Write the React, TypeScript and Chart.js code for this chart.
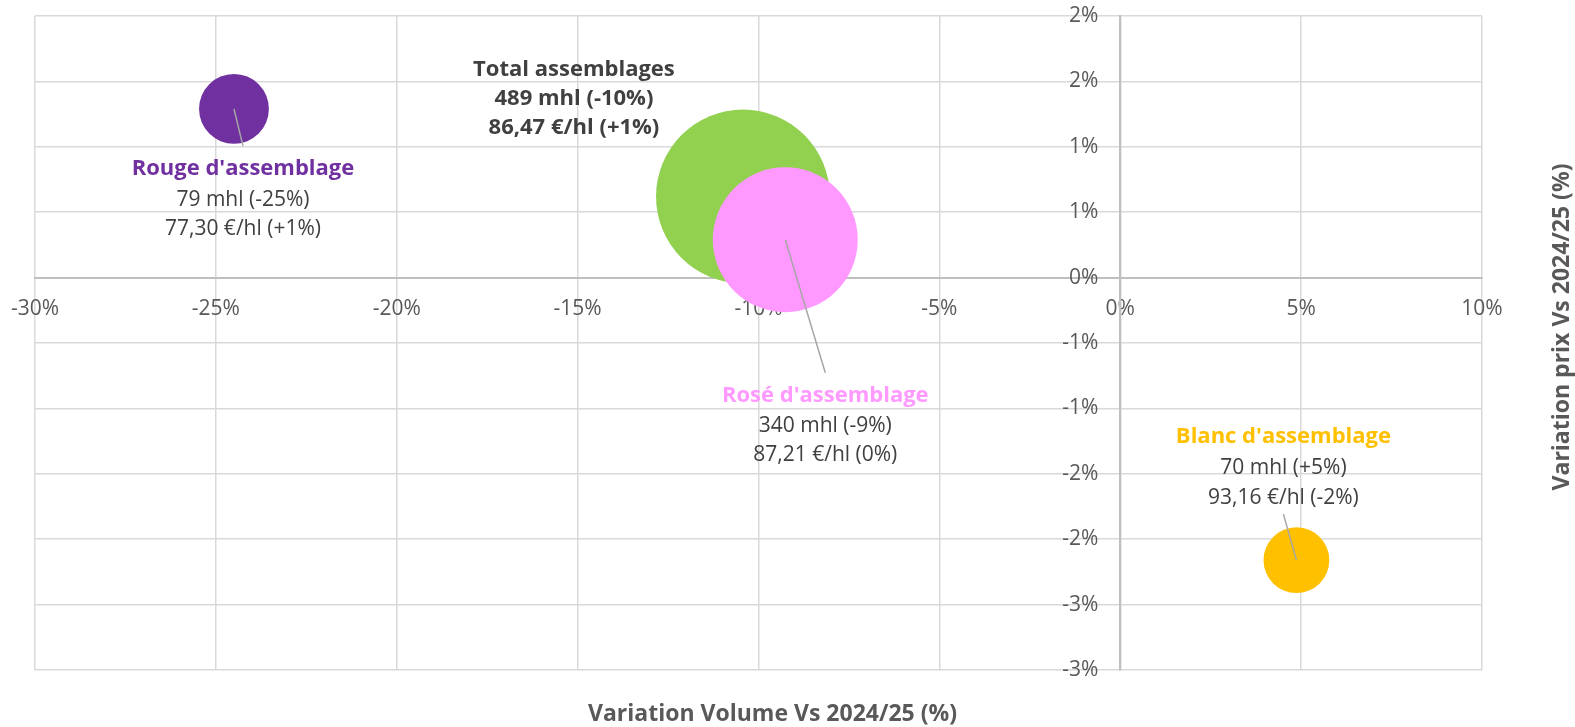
import React, { useEffect, useRef } from 'react';
import { Chart, registerables } from 'chart.js';

Chart.register(...registerables);

// ---- Data ----
const SERIES_NAMES = ['Total assemblages', "Rosé d'assemblage", "Rouge d'assemblage", "Blanc d'assemblage"];
const VOLUME_VARIATION = [-10.43, -9.26, -24.5, 4.87]; // % vs 2024/25 (x)
const PRICE_VARIATION = [0.62, 0.29, 1.29, -2.16]; // % vs 2024/25 (y)
const VOLUME_MHL = [489, 340, 79, 70];
const PRICE_EUR_HL = [86.47, 87.21, 77.3, 93.16];
const X_TICK_VALUES = [-30, -25, -20, -15, -10, -5, 0, 5, 10];
const Y_TICK_VALUES = [2, 1.5, 1, 0.5, 0, -0.5, -1, -1.5, -2, -2.5, -3];
const X_TITLE = 'Variation Volume Vs 2024/25 (%)';
const Y_TITLE = 'Variation prix Vs 2024/25 (%)';

// ---- Styles ----
const SERIES_COLORS = ['#92D050', '#FF99FF', '#7030A0', '#FFC000'];
const TITLE_COLORS = ['#404040', '#FF99FF', '#7030A0', '#FFC000'];
const BUBBLE_SCALE = 3.93;
const FONT = "'Open Sans', 'DejaVu Sans', sans-serif";
const TEXT_COLOR = '#404040';
const AXIS_TEXT = '#595959';
const GRID_COLOR = '#D9D9D9';
const AXIS_LINE_COLOR = '#BFBFBF';

// label layout: offsets (px) from the bubble centre
const LABEL_LAYOUT = [
  { dx: -169, dy: [-121, -92, -63], leader: null, allBold: true },
  { dx: 40, dy: [162, 192, 221], leader: [40, 133], allBold: false },
  { dx: 9, dy: [66, 97, 126], leader: [9, 37], allBold: false },
  { dx: -13, dy: [-117, -86, -56], leader: [-13, -46], allBold: false },
];

const roundAway = (v: number) => {
  const r = Math.sign(v) * Math.round(Math.abs(v) + 1e-9);
  return r === 0 ? 0 : r;
};
const pctSigned = (v: number) => {
  const r = roundAway(v);
  return r > 0 ? `+${r}%` : `${r}%`;
};
const pctTick = (v: number) => `${roundAway(v)}%`;

const noPadX = (s: any) => { s.paddingLeft = 0; s.paddingRight = 0; s.height = 0; };
const noPadY = (s: any) => { s.paddingTop = 0; s.paddingBottom = 0; s.width = 0; };

const labelPlugin = {
  id: 'bubbleLabels',
  afterDatasetsDraw(chart: any) {
    const ctx = chart.ctx;
    ctx.save();
    chart.data.datasets.forEach((ds: any, i: number) => {
      const meta = chart.getDatasetMeta(i);
      const el = meta.data[0];
      if (!el) return;
      const cx = el.x;
      const cy = el.y;
      const lay = LABEL_LAYOUT[i];
      if (lay.leader) {
        ctx.strokeStyle = '#A6A6A6';
        ctx.lineWidth = 1.5;
        ctx.beginPath();
        ctx.moveTo(cx, cy);
        ctx.lineTo(cx + lay.leader[0], cy + lay.leader[1]);
        ctx.stroke();
      }
      const lines = [
        SERIES_NAMES[i],
        `${VOLUME_MHL[i]} mhl (${pctSigned(VOLUME_VARIATION[i])})`,
        `${PRICE_EUR_HL[i].toFixed(2).replace('.', ',')} €/hl (${pctSigned(PRICE_VARIATION[i])})`,
      ];
      ctx.textAlign = 'center';
      ctx.textBaseline = 'alphabetic';
      lines.forEach((t, k) => {
        const bold = k === 0 || lay.allBold;
        ctx.font = bold ? `bold 22px ${FONT}` : `21px ${FONT}`;
        ctx.fillStyle = k === 0 ? TITLE_COLORS[i] : TEXT_COLOR;
        ctx.fillText(t, cx + lay.dx, cy + lay.dy[k]);
      });
    });
    ctx.restore();
  },
  afterDraw(chart: any) {
    const ctx = chart.ctx;
    const area = chart.chartArea;
    ctx.save();
    ctx.fillStyle = AXIS_TEXT;
    ctx.textAlign = 'center';
    ctx.textBaseline = 'alphabetic';
    ctx.font = `bold 23px ${FONT}`;
    ctx.fillText(X_TITLE, (area.left + area.right) / 2 + 14, 721);
    ctx.translate(1569, (area.top + area.bottom) / 2 - 16);
    ctx.rotate(-Math.PI / 2);
    ctx.fillText(Y_TITLE, 0, 0);
    ctx.restore();
  },
};

export default function App() {
  const ref = useRef<HTMLCanvasElement | null>(null);
  useEffect(() => {
    if (!ref.current) return;
    const datasets = SERIES_NAMES.map((name, i) => ({
      label: name,
      data: [{ x: VOLUME_VARIATION[i], y: PRICE_VARIATION[i], r: BUBBLE_SCALE * Math.sqrt(VOLUME_MHL[i]) }],
      backgroundColor: SERIES_COLORS[i],
      borderWidth: 0,
      hoverBorderWidth: 0,
      clip: false,
      order: i === 0 ? 10 : 0,
    }));
    const xTickOpts = {
      callback: (v: any) => pctTick(Number(v)),
      font: { family: FONT, size: 21 },
      color: AXIS_TEXT,
      padding: 19,
      maxRotation: 0,
      autoSkip: false,
    };
    const chart = new Chart(ref.current, {
      type: 'bubble',
      data: { datasets },
      plugins: [labelPlugin],
      options: {
        responsive: false,
        animation: false,
        devicePixelRatio: 1,
        layout: { autoPadding: false, padding: { left: 35, top: 16, right: 93, bottom: 57 } },
        plugins: { legend: { display: false }, tooltip: { enabled: false } },
        events: [],
        scales: {
          x: {
            type: 'linear',
            min: -30,
            max: 10,
            position: { y: 0 },
            afterFit: noPadX,
            afterBuildTicks: (s: any) => { s.ticks = X_TICK_VALUES.map((v) => ({ value: v })); },
            grid: { color: GRID_COLOR, lineWidth: 1.5, drawTicks: false },
            border: { display: true, color: AXIS_LINE_COLOR, width: 2 },
            ticks: { ...xTickOpts, display: false },
          },
          xLabels: {
            type: 'linear',
            axis: 'x',
            min: -30,
            max: 10,
            position: { y: 0 },
            z: 1,
            afterFit: noPadX,
            afterBuildTicks: (s: any) => { s.ticks = X_TICK_VALUES.map((v) => ({ value: v })); },
            grid: { display: false, drawTicks: false },
            border: { display: false },
            ticks: xTickOpts,
          },
          y: {
            type: 'linear',
            min: -3,
            max: 2,
            position: { x: 0 },
            afterFit: noPadY,
            afterBuildTicks: (s: any) => { s.ticks = Y_TICK_VALUES.map((v) => ({ value: v })); },
            grid: { color: GRID_COLOR, lineWidth: 1.5, drawTicks: false },
            border: { display: true, color: AXIS_LINE_COLOR, width: 2 },
            ticks: {
              callback: (v: any) => `${pctTick(Number(v))}    `,
              font: { family: FONT, size: 21 },
              color: AXIS_TEXT,
              padding: 0,
              autoSkip: false,
            },
          },
        },
      } as any,
    });
    return () => chart.destroy();
  }, []);
  return (
    <div style={{ position: 'absolute', left: 0, top: 0, width: 1575, height: 727, background: '#fff' }}>
      <canvas ref={ref} width={1575} height={727} style={{ width: 1575, height: 727 }} />
    </div>
  );
}
